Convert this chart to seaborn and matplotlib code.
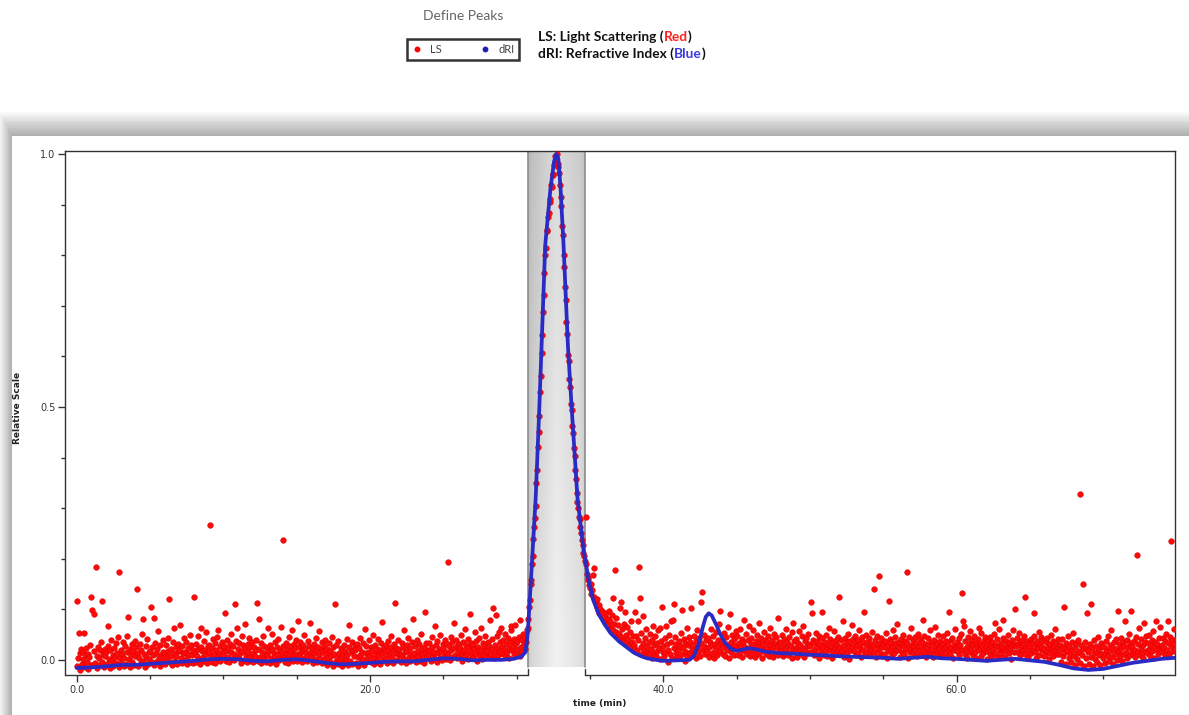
import numpy as np
import pandas as pd
import matplotlib
matplotlib.use("Agg")
import matplotlib.pyplot as plt
import seaborn as sns
from matplotlib.patches import Rectangle
from matplotlib.lines import Line2D
from matplotlib.ticker import MultipleLocator, FixedLocator, FixedFormatter

# ---------------- data ----------------
# dRI (refractive index) trace, time in min / relative scale
dri_time = [0.0, 1.0, 2.0, 3.0, 4.0, 5.0, 6.0, 7.0, 8.0, 9.0, 10.0, 11.0, 12.0, 13.0, 14.0,
            15.0, 16.0, 17.0, 18.0, 19.0, 20.0, 21.0, 22.0, 23.0, 24.0, 25.0, 26.0, 27.0, 28.0,
            29.0, 29.8, 30.3, 30.6, 30.75, 30.9, 31.1, 31.3, 31.55, 31.7, 31.95, 32.3, 32.55,
            32.7, 32.85, 33.0, 33.2, 33.5, 33.75, 34.15, 34.55, 34.9, 35.2, 35.6, 36.0, 36.4,
            37.0, 37.5, 38.0, 38.5, 38.9, 39.5, 40.0, 41.0, 41.8, 42.1, 42.4, 42.7, 42.9, 43.1,
            43.3, 43.6, 43.9, 44.2, 44.6, 45.0, 45.4, 45.8, 46.3, 47.0, 48.0, 49.0, 50.0, 51.0,
            52.0, 53.0, 54.0, 55.0, 56.0, 57.0, 58.0, 59.0, 60.0, 61.0, 62.0, 63.0, 64.0, 65.0,
            66.0, 67.0, 68.0, 69.0, 70.0, 71.0, 72.0, 73.0, 74.0, 74.9]
dri_value = [-0.016, -0.015, -0.013, -0.010, -0.010, -0.008, -0.006, -0.004, -0.002, 0.001,
             0.002, 0.001, -0.002, -0.003, 0.000, 0.001, -0.002, -0.006, -0.009, -0.008,
             -0.006, -0.004, -0.003, -0.003, 0.000, 0.003, 0.002, -0.001, 0.000, 0.000,
             0.002, 0.006, 0.015, 0.05, 0.12, 0.22, 0.32, 0.50, 0.62, 0.82, 0.93, 0.985,
             1.0, 0.99, 0.93, 0.82, 0.62, 0.50, 0.32, 0.22, 0.16, 0.12, 0.09, 0.07, 0.053,
             0.036, 0.025, 0.014, 0.007, 0.003, 0.000, -0.002, -0.001, 0.000, 0.008, 0.03,
             0.065, 0.085, 0.092, 0.088, 0.07, 0.05, 0.034, 0.022, 0.018, 0.02, 0.023, 0.021,
             0.016, 0.013, 0.012, 0.010, 0.009, 0.007, 0.006, 0.005, 0.004, 0.002, 0.004,
             0.006, 0.003, 0.002, 0.000, -0.002, 0.000, 0.002, -0.001, -0.004, -0.010,
             -0.017, -0.020, -0.018, -0.012, -0.006, -0.002, 0.002, 0.004]

# LS (light scattering) readings: one row per minute, one reading every 0.05 min
ls_interval = 0.05
ls_0_10 = [
    [.117, -.012, .004, .054, .013, -.020, .021, -.008, .016, .002, .053, -.015, .009, .024, -.004, .011, -.019, .006, .030, -.010],
    [.125, .099, -.010, .091, .017, -.006, .184, .008, -.017, .026, .003, -.011, .019, .035, -.004, .117, .012, -.014, .007, .022],
    [.015, -.009, .028, .066, .001, -.016, .019, .040, -.003, .010, -.012, .024, .006, .033, -.007, .013, .045, -.015, .174, .004],
    [.020, -.006, .011, .036, -.013, .004, .027, -.009, .015, .048, .084, .002, -.014, .022, .009, .031, -.004, .017, -.011, .038],
    [.007, .025, .140, -.012, .014, .003, .032, -.007, .019, .052, -.002, .080, .011, -.015, .028, .006, .041, -.009, .016, .001],
    [.018, .105, -.005, .026, .009, .082, -.011, .034, .013, -.003, .022, .057, .004, -.013, .030, .010, -.006, .039, .015, .000],
    [.012, -.008, .029, .005, .043, .018, .120, -.004, .021, .007, -.010, .035, .014, .062, -.002, .025, .008, -.009, .031, .017],
    [.020, .069, .003, -.007, .027, .013, .044, -.001, .016, .036, .006, -.009, .023, .011, .050, -.004, .029, .009, .019, -.006],
    [.125, .014, -.005, .031, .008, .022, .047, .002, -.008, .026, .063, .017, .005, .038, -.003, .020, .012, .055, -.007, .028],
    [.016, .030, .267, .006, -.004, .024, .041, .011, -.006, .033, .019, .003, .046, .059, .014, -.002, .027, .009, .036, .021],
]
ls_10_20 = [
    [.010, .027, .092, -.003, .018, .039, .006, .024, -.005, .032, .015, .051, .002, .028, .012, -.001, .110, .037, .063, .008],
    [.021, .004, .034, .013, -.006, .048, .017, .029, .000, .022, .070, .009, -.004, .031, .016, .043, .005, .025, -.002, .035],
    [.013, -.005, .026, .008, .040, .019, .112, -.003, .080, .022, .006, .033, -.007, .015, .047, .002, .028, .011, -.004, .024],
    [.009, .063, .018, -.006, .030, .004, .021, .052, -.002, .014, .036, .007, -.008, .025, .012, .041, -.001, .019, .065, .003],
    [.016, .028, .237, .005, -.004, .034, .013, .022, -.006, .045, .010, .027, .001, .058, .018, -.003, .031, .009, .024, .040],
    [.011, -.002, .076, .025, .007, .036, .015, -.005, .029, .019, .049, .003, .022, .013, -.003, .038, .008, .027, .072, .016],
    [.006, .024, -.007, .031, .014, .002, .043, .019, -.004, .026, .010, .057, .001, .020, .035, -.006, .015, .028, .004, .039],
    [.012, -.010, .021, .003, .033, -.004, .017, .008, .046, -.012, .025, .011, .110, -.002, .029, .006, -.009, .038, .014, .000],
    [.004, .023, -.013, .012, .030, -.006, .018, .001, .041, .009, -.011, .026, .068, -.003, .015, .035, -.008, .020, .007, .029],
    [.019, -.007, .031, .005, -.012, .024, .010, .044, -.004, .016, .002, .033, -.010, .061, .013, .027, -.002, .008, .039, .015],
]
ls_20_30 = [
    [.008, .026, -.005, .017, .050, .003, -.009, .030, .012, .022, -.003, .041, .007, .019, -.008, .034, .014, .075, .000, .025],
    [.016, .003, .029, -.006, .020, .037, .010, -.003, .025, .048, .006, .018, -.007, .032, .113, .013, .024, -.001, .040, .009],
    [.021, .011, -.004, .034, .007, .026, .058, .002, .015, -.006, .030, .017, .044, .005, -.002, .023, .012, .036, .080, .009],
    [.014, .027, .001, -.005, .039, .018, .008, .031, -.003, .022, .052, .012, .003, .026, -.007, .095, .016, .034, .006, .020],
    [.010, .033, .019, -.002, .025, .046, .007, .015, .066, .001, .029, -.004, .038, .013, .022, .004, .050, .017, -.001, .031],
    [.024, .008, .040, .016, .002, .031, .194, .012, .027, -.001, .045, .019, .035, .006, .072, .023, .010, .039, .003, .028],
    [.015, .032, .005, .024, .049, .011, -.002, .036, .020, .060, .007, .029, .014, .042, .001, .026, .090, .018, .033, .009],
    [.030, .004, .021, .056, .012, .038, -.003, .025, .017, .044, .008, .063, .019, .002, .034, .027, .010, .048, .015, .023],
    [.018, .035, .006, .027, .078, .012, .041, .022, .102, .004, .030, .015, .089, .047, .009, .024, .056, .013, .036, .063],
    [.026, .011, .039, .020, .052, .007, .031, .016, .044, .024, .003, .035, .059, .066, .019, .028, .042, .012, .069, .033],
]
ls_30_40 = [
    [.021, .037, .012, .045, .008, .079, .026, .040, .016, .052, .031, .022, .045, .036, .058, .062, .081, .105, .118, .150],
    [.158, .190, .205, .238, .262, .280, .305, .349, .375, .420, .450, .482, .530, .561, .606, .642, .688, .722, .765, .800],
    [.815, .847, .850, .876, .884, .905, .912, .938, .935, .958, .960, .978, .982, .996, .992, 1.0, .980, .975, .962, .938],
    [.915, .897, .858, .840, .800, .776, .738, .712, .668, .645, .603, .590, .555, .540, .505, .493, .462, .448, .418, .402],
    [.375, .358, .330, .312, .300, .283, .279, .262, .250, .236, .228, .212, .205, .196, .190, .283, .170, .162, .158, .147],
    [.142, .150, .131, .138, .168, .124, .181, .117, .112, .120, .104, .099, .108, .093, .101, .090, .097, .088, .092, .083],
    [.085, .074, .092, .071, .080, .068, .097, .063, .076, .060, .088, .058, .122, .071, .177, .055, .082, .052, .068, .050],
    [.052, .102, .045, .115, .060, .040, .071, .038, .095, .049, .035, .064, .041, .030, .056, .028, .077, .036, .025, .047],
    [.030, .095, .022, .048, .017, .039, .076, .183, .122, .026, .054, .012, .086, .033, .020, .044, .009, .061, .028, .015],
    [.035, .010, .052, .021, .004, .040, .066, .014, .029, .047, .007, .033, .018, .058, .024, .063, .002, .038, .105, .016],
]
ls_40_50 = [
    [.027, .008, .043, .015, .066, .031, -.004, .020, .050, .011, .036, .077, .003, .079, .110, .024, .046, .013, .032, .006],
    [.019, .038, .005, .028, .054, .012, .099, .024, .041, -.003, .033, .016, .062, .007, .029, .045, .014, .036, .103, .021],
    [.030, .010, .047, .022, .004, .037, .058, .015, .026, .043, .008, .034, .114, .135, .019, .050, .028, .012, .039, .023],
    [.016, .044, .025, .006, .036, .061, .013, .029, .048, .003, .032, .020, .055, .010, .040, .027, .070, .097, .018, .034],
    [.038, .012, .026, .053, .007, .031, .045, .019, .064, .028, .004, .090, .035, .016, .049, .023, .010, .042, .030, .057],
    [.021, .047, .009, .033, .060, .015, .028, .041, .005, .036, .078, .018, .026, .051, .012, .039, .022, .067, .008, .031],
    [.044, .014, .030, .058, .020, .006, .037, .025, .049, .011, .034, .072, .016, .027, .043, .003, .032, .055, .019, .040],
    [.012, .036, .024, .047, .008, .029, .063, .017, .039, .022, .005, .052, .031, .014, .045, .026, .083, .010, .035, .020],
    [.033, .018, .050, .007, .027, .041, .013, .060, .024, .036, .009, .030, .046, .016, .028, .055, .004, .072, .021, .038],
    [.015, .042, .026, .005, .034, .057, .019, .030, .011, .048, .023, .067, .006, .037, .020, .044, .028, .013, .051, .032],
]
ls_50_60 = [
    [.028, .114, .016, .092, .040, .009, .033, .021, .054, .012, .038, .025, .047, .004, .031, .018, .095, .043, .026, .010],
    [.036, .014, .049, .023, .007, .031, .062, .019, .042, .027, .003, .035, .015, .057, .024, .040, .011, .029, .046, .020],
    [.124, .026, .011, .039, .018, .076, .030, .006, .044, .022, .035, .013, .052, .027, .002, .037, .019, .068, .025, .041],
    [.017, .033, .048, .009, .028, .040, .014, .059, .023, .031, .005, .045, .020, .036, .094, .012, .029, .050, .016, .038],
    [.024, .043, .010, .032, .019, .055, .027, .140, .015, .039, .006, .030, .048, .021, .165, .034, .013, .044, .026, .008],
    [.031, .012, .038, .025, .053, .004, .029, .018, .117, .041, .022, .035, .009, .058, .027, .014, .046, .020, .033, .071],
    [.019, .036, .026, .006, .042, .015, .031, .050, .011, .028, .037, .021, .173, .033, .003, .045, .024, .016, .062, .029],
    [.039, .013, .027, .046, .020, .034, .007, .052, .025, .017, .041, .030, .010, .036, .079, .022, .048, .015, .032, .005],
    [.026, .044, .016, .031, .058, .011, .035, .022, .006, .040, .028, .065, .018, .033, .013, .049, .024, .037, .009, .030],
    [.014, .032, .047, .021, .008, .037, .025, .054, .017, .029, .095, .011, .039, .023, .044, .003, .030, .019, .061, .026],
]
ls_60_70 = [
    [.035, .018, .027, .043, .009, .030, .051, .020, .133, .076, .066, .012, .038, .024, .004, .046, .028, .015, .033, .057],
    [.022, .040, .010, .029, .048, .016, .034, .003, .025, .042, .063, .019, .031, .007, .054, .027, .013, .037, .021, .045],
    [.017, .032, .002, .039, .024, .011, .046, .028, .008, .035, .020, .052, .072, .014, .030, .041, .005, .026, .060, .019],
    [.033, .012, .025, .044, .079, .021, .006, .037, .018, .029, .049, .013, .034, .024, .001, .040, .027, .058, .016, .031],
    [.100, .028, .043, .015, .031, .053, .009, .036, .022, .040, .018, .030, .047, .011, .125, .025, .038, .006, .032, .020],
    [.027, .041, .013, .034, .020, .048, .092, .016, .029, .004, .037, .024, .056, .010, .031, .045, .019, .026, .039, .008],
    [.021, .009, .035, .017, .044, .026, .002, .031, .014, .050, .023, .038, .007, .028, .061, .018, .033, .011, .042, .025],
    [.012, .030, -.004, .022, .041, .008, .105, .026, .015, -.008, .033, .019, .047, .003, .028, .011, -.005, .036, .020, .054],
    [.007, .025, -.010, .033, .014, .002, .040, .018, -.006, .327, .029, .010, .150, .021, -.012, .036, .004, .023, .092, .015],
    [.019, -.008, .031, .005, .110, .024, -.013, .013, .039, .001, .027, .016, -.004, .045, .009, .022, -.011, .034, .012, .028],
]
ls_70_75 = [
    [.003, .026, .014, -.007, .037, .020, .008, .048, -.002, .030, .017, .059, .006, .024, -.009, .035, .011, .042, .021, .000],
    [.096, .018, .032, .007, .044, .023, -.003, .036, .012, .028, .076, .015, .040, .004, .025, .052, .010, .033, .096, .019],
    [.027, .011, .038, .020, .006, .045, .208, .016, .031, .063, .009, .024, .041, .014, .029, .003, .072, .035, .018, .047],
    [.013, .034, .022, .050, .008, .029, .040, .017, .057, .025, .004, .036, .076, .019, .031, .011, .044, .023, .065, .028],
    [.030, .016, .043, .024, .009, .037, .052, .020, .076, .033, .012, .046, .234, .027, .039, .018, .060, .031, .022, .041],
]
ls_segments = [(0, ls_0_10), (10, ls_10_20), (20, ls_20_30), (30, ls_30_40),
               (40, ls_40_50), (50, ls_50_60), (60, ls_60_70), (70, ls_70_75)]

x_ticks = [0.0, 20.0, 40.0, 60.0]
x_tick_labels = ["0.0", "20.0", "40.0", "60.0"]
y_ticks = [0.0, 0.5, 1.0]
y_tick_labels = ["0.0", "0.5", "1.0"]
peak_window = (30.8, 34.65)

# build LS table
ls_t, ls_v = [], []
for start, rows in ls_segments:
    for r, row in enumerate(rows):
        for j, v in enumerate(row):
            ls_t.append(start + r + j * ls_interval)
            ls_v.append(v)
ls_df = pd.DataFrame({"time": ls_t, "LS": ls_v})
dri_df = pd.DataFrame({"time": dri_time, "dRI": dri_value})

# ---------------- figure ----------------
sns.set_theme(style="white")
plt.rcParams["font.family"] = ["DejaVu Sans"]

W, H = 1189, 715
fig = plt.figure(figsize=(W / 100, H / 100), dpi=100)
fig.patch.set_facecolor("white")

def fx(px):
    return px / W

def fy(py):
    return 1 - py / H

# card shadow + card
card_left, card_top = 12, 136
for k in range(14, 0, -1):
    fig.add_artist(Rectangle((fx(card_left - k * 0.9), 0), fx(W - card_left + k * 2), fy(card_top - k * 1.7),
                             transform=fig.transFigure, facecolor="black", alpha=0.022,
                             edgecolor="none", zorder=0))
fig.add_artist(Rectangle((fx(card_left), 0), fx(W - card_left), fy(card_top),
                         transform=fig.transFigure, facecolor="white", edgecolor="none", zorder=0.5))

ax_l, ax_r, ax_t, ax_b = 65, 1175, 151, 675
ax = fig.add_axes([fx(ax_l), fy(ax_b), fx(ax_r - ax_l), (ax_b - ax_t) / H])
ax.set_facecolor("none")
ax.set_zorder(2)

ax.set_xlim(-0.8, 74.9)
ax.set_ylim(-0.03, 1.006)

# peak window shading (gradient)
nx, ny = 60, 60
hx = np.linspace(0, 1, nx)
hv = np.interp(hx, [0, 0.08, 0.5, 0.92, 1], [0.75, 0.79, 0.89, 0.83, 0.79])
vv = np.interp(np.linspace(0, 1, ny), [0, 1], [0.03, -0.06])
grad = np.clip(hv[None, :] - vv[:, None], 0, 1)
ax.imshow(np.dstack([grad, grad, grad]), extent=[peak_window[0], peak_window[1], -0.014, 1.006],
          aspect="auto", origin="upper", zorder=1, interpolation="bilinear")
for xe in peak_window:
    ax.plot([xe, xe], [-0.014, 1.006], color="#8c8c8c", lw=1.2, zorder=1.5)

sns.scatterplot(data=ls_df, x="time", y="LS", ax=ax, color="#ff0a0a", marker="o", s=17,
                edgecolor="#d00000", linewidth=0.3, zorder=3, legend=False)
sns.lineplot(data=dri_df, x="time", y="dRI", ax=ax, color="#2a2ac4", lw=2.7, zorder=4,
             estimator=None, sort=False, legend=False)

# spines (bottom broken under the peak window)
for side in ["top", "right", "left"]:
    ax.spines[side].set_color("#333333")
    ax.spines[side].set_linewidth(1.0)
ax.spines["bottom"].set_visible(False)
xt = ax.get_xaxis_transform()
ax.plot([-0.8, peak_window[0]], [0, 0], transform=xt, color="#333333", lw=1.0, clip_on=False, zorder=5)
ax.plot([peak_window[1], 74.9], [0, 0], transform=xt, color="#333333", lw=1.0, clip_on=False, zorder=5)
ax.plot([peak_window[0], peak_window[0]], [0, 0.012], transform=xt, color="#333333", lw=1.0, clip_on=False, zorder=5)
ax.plot([peak_window[1], peak_window[1]], [0, 0.012], transform=xt, color="#333333", lw=1.0, clip_on=False, zorder=5)

ax.xaxis.set_major_locator(FixedLocator(x_ticks))
ax.xaxis.set_major_formatter(FixedFormatter(x_tick_labels))
ax.xaxis.set_minor_locator(MultipleLocator(5))
ax.yaxis.set_major_locator(FixedLocator(y_ticks))
ax.yaxis.set_major_formatter(FixedFormatter(y_tick_labels))
ax.yaxis.set_minor_locator(MultipleLocator(0.1))
ax.tick_params(axis="both", which="major", direction="out", length=5, width=1, color="#333333",
               labelsize=7, labelcolor="#333333", pad=2, bottom=True, left=True)
ax.tick_params(axis="both", which="minor", direction="out", length=3, width=1, color="#333333",
               bottom=True, left=True)

ax.set_xlabel("time (min)", fontsize=6.5, fontweight="bold", color="#222222")
ax.set_ylabel("Relative Scale", fontsize=6.5, fontweight="bold", color="#222222")
ax.xaxis.set_label_coords((600 - ax_l) / (ax_r - ax_l), -(699 - ax_b) / (ax_b - ax_t))
ax.yaxis.set_label_coords((22 - ax_l) / (ax_r - ax_l), (ax_b - 408) / (ax_b - ax_t))

# ---------------- header ----------------
fig.text(fx(463), fy(16), "Define Peaks", ha="center", va="center", fontsize=10,
         color="#666666", family=["Lato", "DejaVu Sans"])
handles = [Line2D([], [], marker="o", ls="", color="#ff0000", markersize=3.2),
           Line2D([], [], marker="o", ls="", color="#2020b0", markersize=3.2)]
leg = fig.legend(handles, ["LS", "dRI"], loc="center", bbox_to_anchor=(fx(463), fy(49.5)), ncol=2,
                 frameon=True, fancybox=False, edgecolor="black", handlelength=0.9,
                 handletextpad=0.7, columnspacing=3.5, borderpad=0.45,
                 prop={"family": ["Lato", "DejaVu Sans"], "size": 8})
leg.get_frame().set_linewidth(1.8)
for t in leg.get_texts():
    t.set_color("#444444")

tfont = dict(fontsize=9.9, fontweight="bold", color="#111111", family=["Lato", "DejaVu Sans"])
t1 = fig.text(fx(538), fy(37), "LS: Light Scattering (", va="center", ha="left", **tfont)
t2 = ax.annotate("Red", xy=(1, 0), xycoords=t1, va="bottom", ha="left", annotation_clip=False,
                 **{**tfont, "color": "#ff2020"})
ax.annotate(")", xy=(1, 0), xycoords=t2, va="bottom", ha="left", annotation_clip=False, **tfont)
t4 = fig.text(fx(538), fy(54), "dRI: Refractive Index (", va="center", ha="left", **tfont)
t5 = ax.annotate("Blue", xy=(1, 0), xycoords=t4, va="bottom", ha="left", annotation_clip=False,
                 **{**tfont, "color": "#3a3ae0"})
ax.annotate(")", xy=(1, 0), xycoords=t5, va="bottom", ha="left", annotation_clip=False, **tfont)

fig.savefig("out.png", dpi=100)
